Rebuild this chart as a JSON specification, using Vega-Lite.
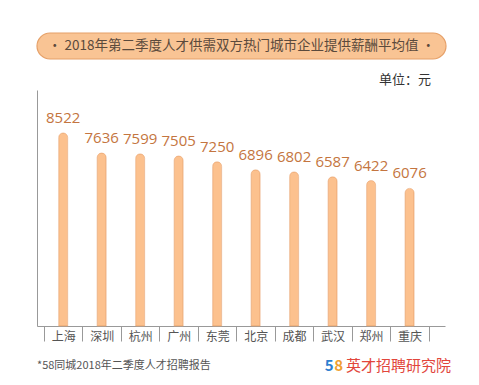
{
  "$schema": "https://vega.github.io/schema/vega-lite/v6.json",
  "padding": {"left": 36, "top": 32, "right": 0, "bottom": 0},
  "background": "white",
  "config": {"view": {"stroke": null}, "font": "Noto Sans CJK SC"},
  "spacing": 14,
  "vconcat": [
    {
      "width": 409,
      "height": 26,
      "data": {"values": [{"t": "• 2018年第二季度人才供需双方热门城市企业提供薪酬平均值 •"}]},
      "encoding": {
        "x": {"field": "t", "type": "nominal", "axis": null, "scale": {"paddingInner": 0, "paddingOuter": 0}}
      },
      "layer": [
        {"mark": {"type": "bar", "cornerRadius": 13, "fill": "#f9c494", "stroke": "#e6a068", "strokeWidth": 1.2}},
        {"mark": {"type": "text", "fontSize": 13.5, "color": "#5b4a3c", "baseline": "middle"}, "encoding": {"text": {"field": "t"}}}
      ]
    },
    {
      "width": 408,
      "height": 236,
      "title": {"text": "单位：元", "anchor": "end", "fontSize": 13, "fontWeight": "normal", "color": "#333", "dx": -14, "offset": 3},
      "data": {"values": [
        {"city": "上海", "v": 8522},
        {"city": "深圳", "v": 7636},
        {"city": "杭州", "v": 7599},
        {"city": "广州", "v": 7505},
        {"city": "东莞", "v": 7250},
        {"city": "北京", "v": 6896},
        {"city": "成都", "v": 6802},
        {"city": "武汉", "v": 6587},
        {"city": "郑州", "v": 6422},
        {"city": "重庆", "v": 6076}
      ]},
      "encoding": {
        "x": {"field": "city", "type": "nominal", "sort": null, "title": null,
          "scale": {"paddingInner": 0, "paddingOuter": 0.3, "align": 0.3},
          "axis": {"domainColor": "#999", "tickColor": "#999", "tickBand": "extent", "tickSize": 15, "labelAngle": 0, "labelPadding": -10, "labelFontSize": 12, "labelColor": "#555"}},
        "y": {"field": "v", "type": "quantitative", "scale": {"domain": [0, 10420]}, "axis": {"labels": false, "ticks": false, "grid": false, "title": null, "domainColor": "#999"}}
      },
      "layer": [
        {"mark": {"type": "bar", "width": 9, "cornerRadiusEnd": 4.5, "fill": "#fcc18e", "stroke": "#eaa570", "strokeWidth": 0.6}},
        {"mark": {"type": "text", "dy": -15, "fontSize": 15, "color": "#c47540", "font": "Open Sans"}, "encoding": {"text": {"field": "v"}}}
      ]
    },
    {
      "width": 410,
      "height": 20,
      "data": {"values": [{"p": 0, "t": "*58同城2018年二季度人才招聘报告"}]},
      "encoding": {"x": {"field": "p", "type": "quantitative", "scale": {"domain": [0, 1]}, "axis": null}},
      "layer": [
        {"mark": {"type": "text", "align": "left", "fontSize": 11, "color": "#555"}, "encoding": {"text": {"field": "t"}}},
        {"data": {"values": [{"p": 1, "t": "英才招聘研究院"}]}, "mark": {"type": "text", "align": "right", "dx": 4, "fontSize": 15, "color": "#e2463c"}, "encoding": {"text": {"field": "t"}}},
        {"data": {"values": [{"p": 1, "t": "5"}]}, "mark": {"type": "text", "align": "right", "dx": -113.5, "fontSize": 15, "fontWeight": "bold", "color": "#2f7fd0"}, "encoding": {"text": {"field": "t"}}},
        {"data": {"values": [{"p": 1, "t": "8"}]}, "mark": {"type": "text", "align": "right", "dx": -104, "fontSize": 15, "fontWeight": "bold", "color": "#f0a030"}, "encoding": {"text": {"field": "t"}}}
      ]
    }
  ]
}
